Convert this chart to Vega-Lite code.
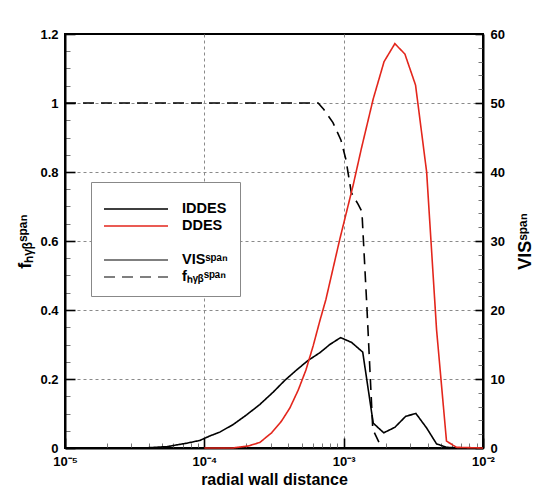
{
  "$schema": "https://vega.github.io/schema/vega-lite/v6.json",
  "width": 418,
  "height": 414,
  "autosize": "none",
  "padding": {"left": 65, "top": 34, "right": 54, "bottom": 43},
  "background": "white",
  "config": {
    "view": {"stroke": "black", "strokeWidth": 2},
    "font": "Liberation Sans",
    "axis": {
      "domainColor": "black",
      "domainWidth": 2,
      "labelFont": "Liberation Sans",
      "labelFontWeight": "bold",
      "labelFontSize": 13,
      "labelColor": "black",
      "titleFont": "Liberation Sans",
      "titleFontWeight": "bold",
      "titleFontSize": 16,
      "titleColor": "black",
      "gridColor": "#8a8a8a",
      "gridDash": [3, 3],
      "gridWidth": 1,
      "labelOverlap": false,
      "labelFlush": false,
      "labelBound": false
    },
    "legend": {
      "labelFont": "Liberation Sans",
      "labelFontWeight": "bold",
      "labelFontSize": 14.5,
      "labelColor": "black"
    }
  },
  "datasets": {
    "fhyb": [
      {"x": 0.00001, "v": 1.0, "series": "fₕᵧᵦˢᵖᵃⁿ"},
      {"x": 0.000656, "v": 1.0, "series": "fₕᵧᵦˢᵖᵃⁿ"},
      {"x": 0.000721, "v": 0.981, "series": "fₕᵧᵦˢᵖᵃⁿ"},
      {"x": 0.000838, "v": 0.943, "series": "fₕᵧᵦˢᵖᵃⁿ"},
      {"x": 0.000955, "v": 0.893, "series": "fₕᵧᵦˢᵖᵃⁿ"},
      {"x": 0.001038, "v": 0.836, "series": "fₕᵧᵦˢᵖᵃⁿ"},
      {"x": 0.001135, "v": 0.74, "series": "fₕᵧᵦˢᵖᵃⁿ"},
      {"x": 0.001271, "v": 0.706, "series": "fₕᵧᵦˢᵖᵃⁿ"},
      {"x": 0.001352, "v": 0.685, "series": "fₕᵧᵦˢᵖᵃⁿ"},
      {"x": 0.001465, "v": 0.416, "series": "fₕᵧᵦˢᵖᵃⁿ"},
      {"x": 0.001618, "v": 0.054, "series": "fₕᵧᵦˢᵖᵃⁿ"},
      {"x": 0.00179, "v": 0.017, "series": "fₕᵧᵦˢᵖᵃⁿ"}
    ],
    "vis": [
      {"x": 0.0000308, "v": 0.0, "series": "IDDES"},
      {"x": 0.0000407, "v": 0.05, "series": "IDDES"},
      {"x": 0.000054, "v": 0.2, "series": "IDDES"},
      {"x": 0.000075, "v": 0.7, "series": "IDDES"},
      {"x": 0.0000929, "v": 1.1, "series": "IDDES"},
      {"x": 0.0001096, "v": 1.75, "series": "IDDES"},
      {"x": 0.000129, "v": 2.3, "series": "IDDES"},
      {"x": 0.000161, "v": 3.4, "series": "IDDES"},
      {"x": 0.000201, "v": 4.8, "series": "IDDES"},
      {"x": 0.00025, "v": 6.3, "series": "IDDES"},
      {"x": 0.000312, "v": 8.1, "series": "IDDES"},
      {"x": 0.000378, "v": 9.8, "series": "IDDES"},
      {"x": 0.000459, "v": 11.3, "series": "IDDES"},
      {"x": 0.000556, "v": 12.7, "series": "IDDES"},
      {"x": 0.000674, "v": 13.8, "series": "IDDES"},
      {"x": 0.000796, "v": 15.0, "series": "IDDES"},
      {"x": 0.00095, "v": 16.0, "series": "IDDES"},
      {"x": 0.00114, "v": 15.3, "series": "IDDES"},
      {"x": 0.00137, "v": 13.9, "series": "IDDES"},
      {"x": 0.00163, "v": 3.6, "series": "IDDES"},
      {"x": 0.00194, "v": 2.2, "series": "IDDES"},
      {"x": 0.00233, "v": 3.0, "series": "IDDES"},
      {"x": 0.00279, "v": 4.6, "series": "IDDES"},
      {"x": 0.0033, "v": 5.0, "series": "IDDES"},
      {"x": 0.00394, "v": 2.9, "series": "IDDES"},
      {"x": 0.00464, "v": 0.6, "series": "IDDES"},
      {"x": 0.00547, "v": 0.1, "series": "IDDES"},
      {"x": 0.0068, "v": 0.0, "series": "IDDES"},
      {"x": 0.0001, "v": 0.0, "series": "DDES"},
      {"x": 0.00016, "v": 0.0, "series": "DDES"},
      {"x": 0.000207, "v": 0.3, "series": "DDES"},
      {"x": 0.00025, "v": 0.8, "series": "DDES"},
      {"x": 0.000304, "v": 2.2, "series": "DDES"},
      {"x": 0.000358, "v": 3.9, "series": "DDES"},
      {"x": 0.000411, "v": 5.8, "series": "DDES"},
      {"x": 0.000472, "v": 8.4, "series": "DDES"},
      {"x": 0.000536, "v": 11.3, "series": "DDES"},
      {"x": 0.000604, "v": 14.8, "series": "DDES"},
      {"x": 0.000674, "v": 18.4, "series": "DDES"},
      {"x": 0.000745, "v": 21.5, "series": "DDES"},
      {"x": 0.000939, "v": 30.3, "series": "DDES"},
      {"x": 0.00117, "v": 38.1, "series": "DDES"},
      {"x": 0.00134, "v": 43.4, "series": "DDES"},
      {"x": 0.00163, "v": 50.6, "series": "DDES"},
      {"x": 0.00195, "v": 56.0, "series": "DDES"},
      {"x": 0.00233, "v": 58.6, "series": "DDES"},
      {"x": 0.00275, "v": 57.1, "series": "DDES"},
      {"x": 0.00328, "v": 52.6, "series": "DDES"},
      {"x": 0.00394, "v": 40.0, "series": "DDES"},
      {"x": 0.00464, "v": 17.2, "series": "DDES"},
      {"x": 0.00547, "v": 1.0, "series": "DDES"},
      {"x": 0.00645, "v": 0.1, "series": "DDES"},
      {"x": 0.01, "v": 0.0, "series": "DDES"}
    ]
  },
  "encoding": {
    "x": {
      "field": "x",
      "type": "quantitative",
      "scale": {"type": "log", "domain": [0.00001, 0.01], "nice": false},
      "axis": {
        "title": "radial wall distance",
        "values": [0.00001, 0.00002, 0.00003, 0.00004, 0.00005, 0.00006, 0.00007, 0.00008, 0.00009, 0.0001, 0.0002, 0.0003, 0.0004, 0.0005, 0.0006, 0.0007, 0.0008, 0.0009, 0.001, 0.002, 0.003, 0.004, 0.005, 0.006, 0.007, 0.008, 0.009, 0.01],
        "labelExpr": "abs(log(datum.value)/LN10 - round(log(datum.value)/LN10)) < 0.001 ? (datum.value < 0.00005 ? '10⁻⁵' : datum.value < 0.0005 ? '10⁻⁴' : datum.value < 0.005 ? '10⁻³' : '10⁻²') : ''",
        "labelPadding": 17,
        "labelFontSize": 13,
        "titlePadding": -2,
        "grid": true,
        "gridOpacity": {"condition": {"test": "abs(log(datum.value)/LN10 - round(log(datum.value)/LN10)) < 0.001 && datum.value > 0.00002 && datum.value < 0.005", "value": 1}, "value": 0},
        "tickSize": {"condition": {"test": "abs(log(datum.value)/LN10 - round(log(datum.value)/LN10)) < 0.001", "value": -10}, "value": -5},
        "tickColor": {"condition": {"test": "abs(log(datum.value)/LN10 - round(log(datum.value)/LN10)) < 0.001", "value": "black"}, "value": "#777777"},
        "tickWidth": {"condition": {"test": "abs(log(datum.value)/LN10 - round(log(datum.value)/LN10)) < 0.001", "value": 1.6}, "value": 1}
      }
    }
  },
  "layer": [
    {
      "data": {"name": "fhyb"},
      "mark": {"type": "line", "color": "black", "strokeWidth": 1.6, "strokeCap": "butt"},
      "encoding": {
        "y": {
          "field": "v",
          "type": "quantitative",
          "scale": {"domain": [0, 1.2], "nice": false},
          "axis": {
            "title": "fₕᵧᵦˢᵖᵃⁿ",
            "titleFontSize": 18,
            "titlePadding": 5,
            "values": [0, 0.05, 0.1, 0.15, 0.2, 0.25, 0.3, 0.35, 0.4, 0.45, 0.5, 0.55, 0.6, 0.65, 0.7, 0.75, 0.8, 0.85, 0.9, 0.95, 1, 1.05, 1.1, 1.15, 1.2],
            "labelExpr": "abs(datum.value*5 - round(datum.value*5)) < 0.001 ? format(datum.value, '.1~f') : ''",
            "labelPadding": 17,
            "grid": true,
            "gridOpacity": {"condition": {"test": "abs(datum.value*5 - round(datum.value*5)) < 0.001 && datum.value > 0.01 && datum.value < 1.19", "value": 1}, "value": 0},
            "tickSize": {"condition": {"test": "abs(datum.value*5 - round(datum.value*5)) < 0.001", "value": -10}, "value": -5},
            "tickColor": {"condition": {"test": "abs(datum.value*5 - round(datum.value*5)) < 0.001", "value": "black"}, "value": "#777777"},
            "tickWidth": {"condition": {"test": "abs(datum.value*5 - round(datum.value*5)) < 0.001", "value": 1.6}, "value": 1}
          }
        },
        "strokeDash": {
          "field": "series",
          "type": "nominal",
          "scale": {"domain": ["IDDES", "DDES", " ", "VISˢᵖᵃⁿ", "fₕᵧᵦˢᵖᵃⁿ"], "range": [[1, 0], [1, 0], [1, 0], [1, 0], [11, 7]]},
          "legend": {
            "title": " ",
            "titleFontSize": 6,
            "titlePadding": 0,
            "orient": "none",
            "legendX": 26,
            "legendY": 148,
            "padding": 12,
            "strokeColor": "#888888",
            "fillColor": "white",
            "symbolType": "M-4,0H4",
            "symbolSize": 256,
            "symbolOffset": 24,
            "symbolStrokeWidth": 1.5,
            "labelOffset": 37,
            "rowPadding": 1,
            "encode": {"symbols": {"update": {"stroke": {"scale": "color", "field": "value"}}}}
          }
        }
      }
    },
    {
      "data": {"name": "vis"},
      "mark": {"type": "line", "strokeWidth": 1.6},
      "encoding": {
        "y": {
          "field": "v",
          "type": "quantitative",
          "scale": {"domain": [0, 60], "nice": false},
          "axis": {
            "orient": "right",
            "title": "VISˢᵖᵃⁿ",
            "titleAngle": -90,
            "titleFontSize": 18,
            "titlePadding": 30,
            "values": [0, 2, 4, 6, 8, 10, 12, 14, 16, 18, 20, 22, 24, 26, 28, 30, 32, 34, 36, 38, 40, 42, 44, 46, 48, 50, 52, 54, 56, 58, 60],
            "labelExpr": "datum.value % 10 == 0 ? format(datum.value, 'd') : ''",
            "labelPadding": 15,
            "grid": false,
            "tickSize": {"condition": {"test": "datum.value % 10 == 0", "value": -8}, "value": -5},
            "tickColor": {"condition": {"test": "datum.value % 10 == 0", "value": "black"}, "value": "#777777"},
            "tickWidth": {"condition": {"test": "datum.value % 10 == 0", "value": 1.6}, "value": 1}
          }
        },
        "color": {
          "field": "series",
          "type": "nominal",
          "scale": {"domain": ["IDDES", "DDES", " ", "VISˢᵖᵃⁿ", "fₕᵧᵦˢᵖᵃⁿ"], "range": ["black", "#e3261c", "transparent", "#555555", "#555555"]},
          "legend": {
            "title": " ",
            "titleFontSize": 6,
            "titlePadding": 0,
            "orient": "none",
            "legendX": 26,
            "legendY": 148,
            "padding": 12,
            "strokeColor": "#888888",
            "fillColor": "white",
            "symbolType": "M-4,0H4",
            "symbolSize": 256,
            "symbolOffset": 24,
            "symbolStrokeWidth": 1.5,
            "labelOffset": 37,
            "rowPadding": 1,
            "encode": {"symbols": {"update": {"stroke": {"scale": "color", "field": "value"}}}}
          }
        },
        "strokeDash": {
          "field": "series",
          "type": "nominal",
          "scale": {"domain": ["IDDES", "DDES", " ", "VISˢᵖᵃⁿ", "fₕᵧᵦˢᵖᵃⁿ"], "range": [[1, 0], [1, 0], [1, 0], [1, 0], [11, 7]]}
        }
      }
    }
  ],
  "resolve": {"scale": {"y": "independent"}}
}
